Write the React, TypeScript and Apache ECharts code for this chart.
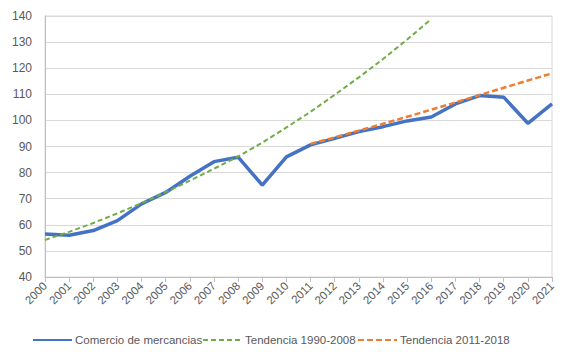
import React, { useEffect, useRef } from "react";
import * as echarts from "echarts";

const years = [
  "2000", "2001", "2002", "2003", "2004", "2005", "2006", "2007", "2008", "2009", "2010",
  "2011", "2012", "2013", "2014", "2015", "2016", "2017", "2018", "2019", "2020", "2021",
];

const comercio = [
  56.5, 56, 57.8, 61.6, 68, 72.4, 78.6, 84.2, 85.9, 75.2, 86,
  90.6, 93.1, 95.7, 97.6, 99.8, 101.3, 106.3, 109.5, 108.9, 98.9, 106.3,
];

const tendencia9008 = [
  54.2, 57.3, 60.7, 64.4, 68.3, 72.5, 76.9, 81.5, 86.2, 91.5, 97.3,
  103.3, 109.8, 116.5, 123.5, 131, 138.8, null, null, null, null, null,
];

const tendencia1118 = [
  null, null, null, null, null, null, null, null, null, null, null,
  91, 93.5, 96.1, 98.7, 101.4, 104.1, 106.9, 109.7, 112.5, 115.3, 118,
];

const seriesNames = ["Comercio de mercancias", "Tendencia 1990-2008", "Tendencia 2011-2018"];

const yTicks = { min: 40, max: 140, interval: 10 };

const FONT = "'Liberation Sans', Arial, sans-serif";
const GRAY = "#595959";

export default function App() {
  const ref = useRef<HTMLDivElement>(null);

  useEffect(() => {
    document.body.style.margin = "0";
    if (!ref.current) return;
    const chart = echarts.init(ref.current, undefined, { renderer: "svg" });
    const legendLefts = [32, 202, 357];
    chart.setOption({
      animation: false,
      backgroundColor: "#ffffff",
      textStyle: { fontFamily: FONT },
      grid: {
        left: 45,
        right: 15,
        top: 16,
        bottom: 80,
        show: true,
        borderColor: "#d9d9d9",
        borderWidth: 1,
      },
      legend: seriesNames.map((n, i) => ({
        left: legendLefts[i],
        top: 334,
        itemWidth: 39,
        itemHeight: 8,
        itemGap: 0,
        padding: 0,
        itemStyle: { opacity: 0, color: "transparent", borderWidth: 0 },
        textStyle: { color: GRAY, fontSize: 11.5, fontFamily: FONT, padding: [0, 0, 0, -2] },
        data: [{ name: n }],
      })),
      xAxis: {
        type: "category",
        data: years,
        boundaryGap: false,
        axisLine: { show: true, lineStyle: { color: "#bfbfbf", width: 1 } },
        axisTick: { show: true, alignWithLabel: true, length: 5, lineStyle: { color: "#bfbfbf" } },
        axisLabel: {
          color: GRAY,
          fontSize: 11.5,
          rotate: 45,
          margin: 7,
          interval: 0,
          fontFamily: FONT,
        },
        splitLine: { show: false },
      },
      yAxis: {
        type: "value",
        min: yTicks.min,
        max: yTicks.max,
        interval: yTicks.interval,
        axisLine: { show: true, lineStyle: { color: "#bfbfbf", width: 1 } },
        axisTick: { show: false },
        axisLabel: { color: GRAY, fontSize: 12, margin: 13, fontFamily: FONT },
        splitLine: { show: true, lineStyle: { color: "#d9d9d9", width: 1 } },
      },
      series: [
        {
          name: seriesNames[1],
          type: "line",
          data: tendencia9008,
          symbol: "none",
          z: 3,
          lineStyle: { color: "#70AD47", width: 2, type: [5, 3] },
          itemStyle: { color: "#70AD47" },
        },
        {
          name: seriesNames[0],
          type: "line",
          data: comercio,
          symbol: "none",
          z: 2,
          lineStyle: { color: "#4472C4", width: 3.5 },
          itemStyle: { color: "#4472C4" },
        },
        {
          name: seriesNames[2],
          type: "line",
          data: tendencia1118,
          symbol: "none",
          z: 4,
          lineStyle: { color: "#ED7D31", width: 2.5, type: [6, 3] },
          itemStyle: { color: "#ED7D31" },
        },
      ],
    });
    return () => chart.dispose();
  }, []);

  return <div ref={ref} style={{ width: 567, height: 357 }} />;
}
